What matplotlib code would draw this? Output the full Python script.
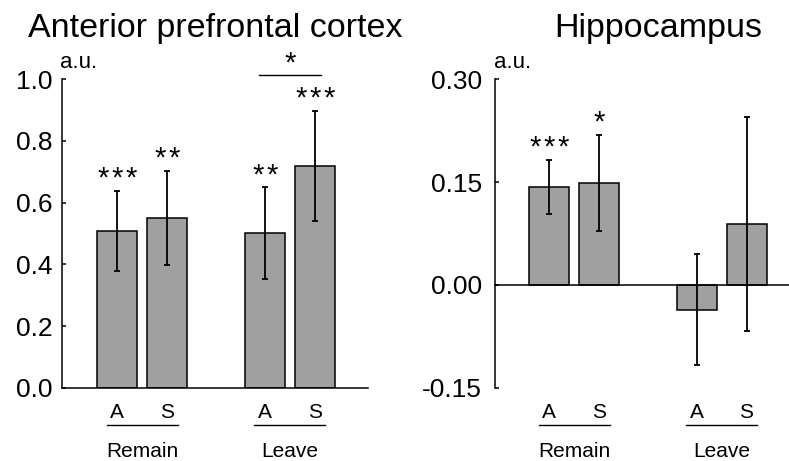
import matplotlib
matplotlib.use("Agg")
import matplotlib.pyplot as plt

plt.rcParams['font.family'] = ['Liberation Sans', 'DejaVu Sans']

# data
conds = ['A', 'S', 'A', 'S']
groups = ['Remain', 'Leave']
xpos = [0, 1, 2.95, 3.95]

apfc_mean = [0.508, 0.550, 0.501, 0.719]
apfc_err = [0.130, 0.153, 0.149, 0.179]
apfc_stars = [3, 2, 2, 3]

hip_mean = [0.143, 0.149, -0.036, 0.089]
hip_err = [0.039, 0.070, 0.081, 0.156]
hip_stars = [3, 1, 0, 0]

bar_color = '#a0a0a0'
lw = 1.1
star_size = 21
star_pitch = 10.1  # points between neighbouring asterisks


def put_stars(ax, n, x, y, dy):
    # asterisks drawn one by one so they are spaced out like in the original
    for k in range(n):
        dx = (k - (n - 1) / 2) * star_pitch
        ax.annotate('*', (x, y), xytext=(dx, dy), textcoords='offset points',
                    ha='center', va='baseline', fontsize=star_size, annotation_clip=False)


fig = plt.figure(figsize=(7.89, 4.61), dpi=100)
ax1 = fig.add_axes([0.0786, 0.159, 0.3878, 0.669])
ax2 = fig.add_axes([0.6274, 0.159, 0.3726, 0.669])


def panel(ax, means, errs, stars, ylim, yticks, ylabels, xlim, pad):
    ax.bar(xpos, means, width=0.8, color=bar_color, edgecolor='black', linewidth=lw, zorder=2)
    ax.errorbar(xpos, means, yerr=errs, fmt='none', ecolor='black', elinewidth=1.3,
                capsize=2.2, capthick=1.3, zorder=3)
    for x, m, e, s in zip(xpos, means, errs, stars):
        put_stars(ax, s, x, m + e, 3)
    ax.set_xlim(xlim)
    ax.set_ylim(ylim)
    ax.set_yticks(yticks)
    ax.set_yticklabels(ylabels)
    ax.set_xticks([])
    for sp in ['top', 'right']:
        ax.spines[sp].set_visible(False)
    ax.spines['left'].set_linewidth(lw)
    ax.spines['bottom'].set_linewidth(lw)
    ax.spines['bottom'].set_position(('data', 0))
    ax.tick_params(axis='y', direction='in', length=3, width=lw, labelsize=19, pad=pad)

    tr = ax.get_xaxis_transform()
    for x, c in zip(xpos, conds):
        ax.text(x, -0.0992, c, transform=tr, ha='center', va='baseline', fontsize=15)
    for i, g in enumerate(groups):
        x0, x1 = xpos[2 * i], xpos[2 * i + 1]
        ax.plot([x0 - 0.21, x1 + 0.21], [-0.121, -0.121], color='black', lw=1.0,
                transform=tr, clip_on=False)
        ax.text((x0 + x1) / 2, -0.2237, g, transform=tr, ha='center', va='baseline', fontsize=15)
    ax.text(-0.005, 1.0357, 'a.u.', transform=ax.transAxes, ha='left', va='baseline', fontsize=16)


panel(ax1, apfc_mean, apfc_err, apfc_stars, (0, 1.0), [0, 0.2, 0.4, 0.6, 0.8, 1.0],
      ['0.0', '0.2', '0.4', '0.6', '0.8', '1.0'], (-1.106, 5.014), 6.7)
panel(ax2, hip_mean, hip_err, hip_stars, (-0.15, 0.30), [-0.15, 0, 0.15, 0.30],
      ['-0.15', '0.00', '0.15', '0.30'], (-1.08, 4.8), 9.6)

# significance bracket between Leave A and Leave S
br_y = 1.014
ax1.plot([xpos[2] - 0.12, xpos[3] + 0.12], [br_y, br_y], color='black', lw=1.0, clip_on=False)
put_stars(ax1, 1, (xpos[2] + xpos[3]) / 2, br_y, 2.5)

fig.text(215 / 789, 1 - 36.7 / 461, 'Anterior prefrontal cortex', ha='center', va='baseline', fontsize=24.5)
fig.text(658.5 / 789, 1 - 36.7 / 461, 'Hippocampus', ha='center', va='baseline', fontsize=24.5)

fig.savefig('out.png', dpi=100)
